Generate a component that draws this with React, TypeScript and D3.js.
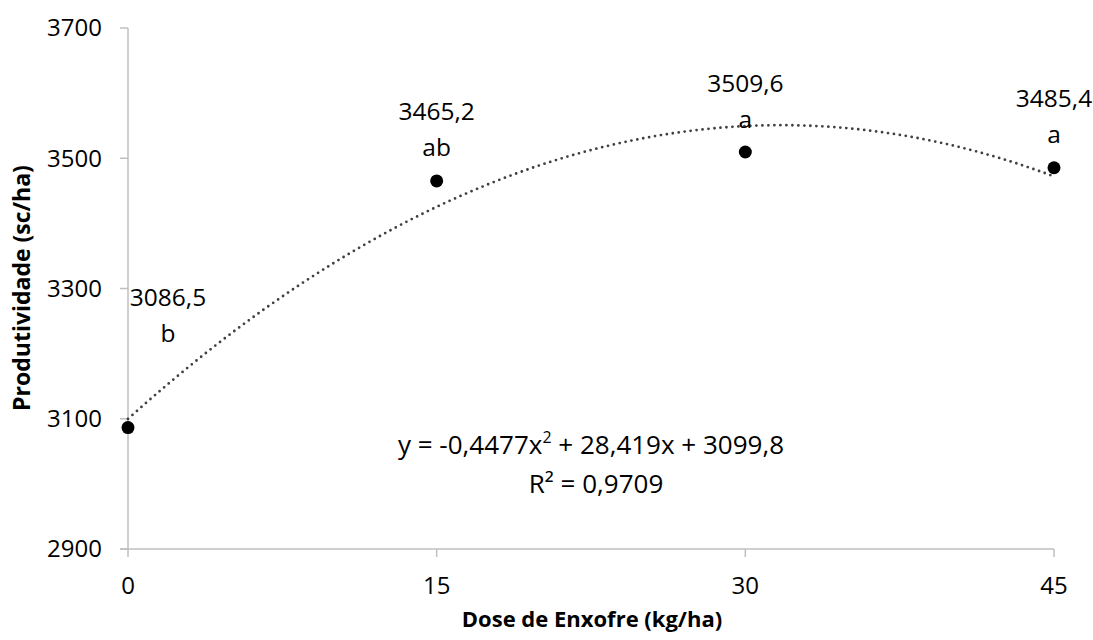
import React from "react";
import * as d3 from "d3";

const doses = [0, 15, 30, 45];
const yields = [3086.5, 3465.2, 3509.6, 3485.4];
const valueLabels = ["3086,5", "3465,2", "3509,6", "3485,4"];
const letters = ["b", "ab", "a", "a"];
const xTicks = [0, 15, 30, 45];
const yTicks = [2900, 3100, 3300, 3500, 3700];
// quadratic trend: a*x^2 + b*x + c
const trendCoef = [-0.4477, 28.419, 3099.8];

// label placement relative to each point (px)
const labelShift = [
  [40, -130],
  [0, -69],
  [0, -69],
  [0, -69],
];

const W = 1093;
const H = 640;
const margin = { top: 28, right: 39, bottom: 91, left: 128 };
const FONT = "'Open Sans', sans-serif";

export default function App() {
  const x = d3
    .scaleLinear()
    .domain([0, 45])
    .range([margin.left, W - margin.right]);
  const y = d3
    .scaleLinear()
    .domain([2900, 3700])
    .range([H - margin.bottom, margin.top]);

  const [a, b, c] = trendCoef;
  const trendPts = d3.range(0, 45.001, 0.25).map((v) => [v, a * v * v + b * v + c]);
  const trendPath = d3
    .line<number[]>()
    .x((d) => x(d[0]))
    .y((d) => y(d[1]))(trendPts);

  const axisColor = "#bfbfbf";
  const bottom = y(2900);

  return (
    <svg
      width={W}
      height={H}
      style={{ position: "absolute", left: 0, top: 0, background: "#fff" }}
      fontFamily={FONT}
    >
      {/* y axis */}
      <line x1={x(0)} x2={x(0)} y1={y(3700)} y2={bottom} stroke={axisColor} strokeWidth={1.5} />
      {yTicks.map((t) => (
        <g key={t}>
          <line x1={x(0) - 8} x2={x(0)} y1={y(t)} y2={y(t)} stroke={axisColor} strokeWidth={1.5} />
          <text x={102} y={y(t)} dy="0.35em" textAnchor="end" fontSize={24} fill="#000">
            {t}
          </text>
        </g>
      ))}
      {/* x axis */}
      <line x1={x(0) - 8} x2={x(45)} y1={bottom} y2={bottom} stroke={axisColor} strokeWidth={1.5} />
      {xTicks.map((t) => (
        <g key={t}>
          <line x1={x(t)} x2={x(t)} y1={bottom} y2={bottom + 8} stroke={axisColor} strokeWidth={1.5} />
          <text x={x(t)} y={586} dy="0.35em" textAnchor="middle" fontSize={24} fill="#000">
            {t}
          </text>
        </g>
      ))}

      {/* trend line */}
      <path
        d={trendPath || ""}
        fill="none"
        stroke="#404040"
        strokeWidth={2.8}
        strokeLinecap="round"
        strokeDasharray="0 6"
      />

      {/* points */}
      {doses.map((d, i) => (
        <circle key={d} cx={x(d)} cy={y(yields[i])} r={6.5} fill="#000" />
      ))}

      {/* point labels */}
      {doses.map((d, i) => {
        const px = x(d) + labelShift[i][0];
        const py = y(yields[i]) + labelShift[i][1];
        return (
          <g key={"l" + d} fontSize={24.5} fill="#000" textAnchor="middle">
            <text x={px} y={py} dy="0.35em">
              {valueLabels[i]}
            </text>
            <text x={px} y={py + 36} dy="0.35em">
              {letters[i]}
            </text>
          </g>
        );
      })}

      {/* equation */}
      <text x={591} y={445} dy="0.35em" textAnchor="middle" fontSize={26} fill="#000">
        y = -0,4477x<tspan baselineShift="super" fontSize={16}>2</tspan> + 28,419x + 3099,8
      </text>
      <text x={596} y={484} dy="0.35em" textAnchor="middle" fontSize={26} fill="#000">
        R² = 0,9709
      </text>

      {/* axis titles */}
      <text x={592} y={619} dy="0.35em" textAnchor="middle" fontSize={22} fontWeight="bold" fill="#000">
        Dose de Enxofre (kg/ha)
      </text>
      <text
        transform={`translate(22, 288) rotate(-90)`}
        dy="0.35em"
        textAnchor="middle"
        fontSize={23}
        fontWeight="bold"
        fill="#000"
      >
        Produtividade (sc/ha)
      </text>
    </svg>
  );
}
